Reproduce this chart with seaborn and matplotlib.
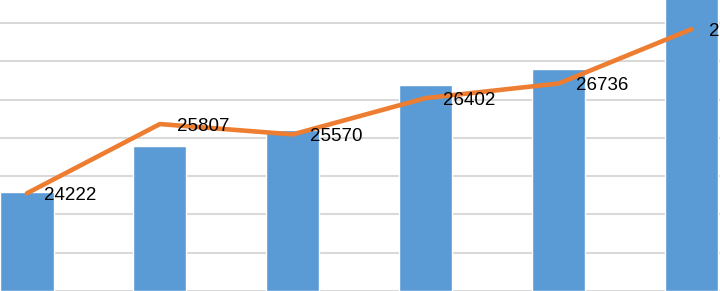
import numpy as np
import pandas as pd
import matplotlib
matplotlib.use("Agg")
import matplotlib.pyplot as plt
import seaborn as sns

# values (bars on the left axis, line on the right axis)
periods = ["P1", "P2", "P3", "P4", "P5", "P6"]
bar_values = [2593, 3786, 4200, 5390, 5785, 8000]
line_values = [24222, 25807, 25570, 26402, 26736, 27980]
line_labels = ["24222", "25807", "25570", "26402", "26736", "27980"]

sns.set_theme(style="white")
plt.rcParams["font.family"] = ["Liberation Sans", "DejaVu Sans"]

df = pd.DataFrame({"period": periods, "bars": bar_values, "line": line_values})
df["pos"] = np.arange(len(df))

fig = plt.figure(figsize=(7.2, 2.91), dpi=100)
ax = fig.add_axes([0, 0, 1, 1])

sns.barplot(data=df, x="period", y="bars", color="#5B9BD5", saturation=1,
            width=0.4, ax=ax)
ax.set_xlim(-0.203, 5.214)
ax.set_ylim(0, 7600)
ax.set_yticks(np.arange(0, 7001, 1000))
ax.yaxis.grid(True, color="#D9D9D9", linewidth=1.5)
ax.set_axisbelow(True)

ax2 = ax.twinx()
sns.lineplot(data=df, x="pos", y="line", color="#ED7D31", linewidth=3.3,
             solid_joinstyle="round", solid_capstyle="round", ax=ax2)
ax2.set_ylim(21984, 28648)

for xp, yv, lab in zip(df["pos"], df["line"], line_labels):
    ax2.annotate(lab, (xp, yv), xytext=(17, -2), textcoords="offset pixels",
                 ha="left", va="center", fontsize=13.5, color="black")

for a in (ax, ax2):
    a.set_xlabel("")
    a.set_ylabel("")
    a.tick_params(left=False, right=False, bottom=False,
                  labelleft=False, labelright=False, labelbottom=False)
    for s in a.spines.values():
        s.set_visible(False)

fig.savefig("out.png", dpi=100)
